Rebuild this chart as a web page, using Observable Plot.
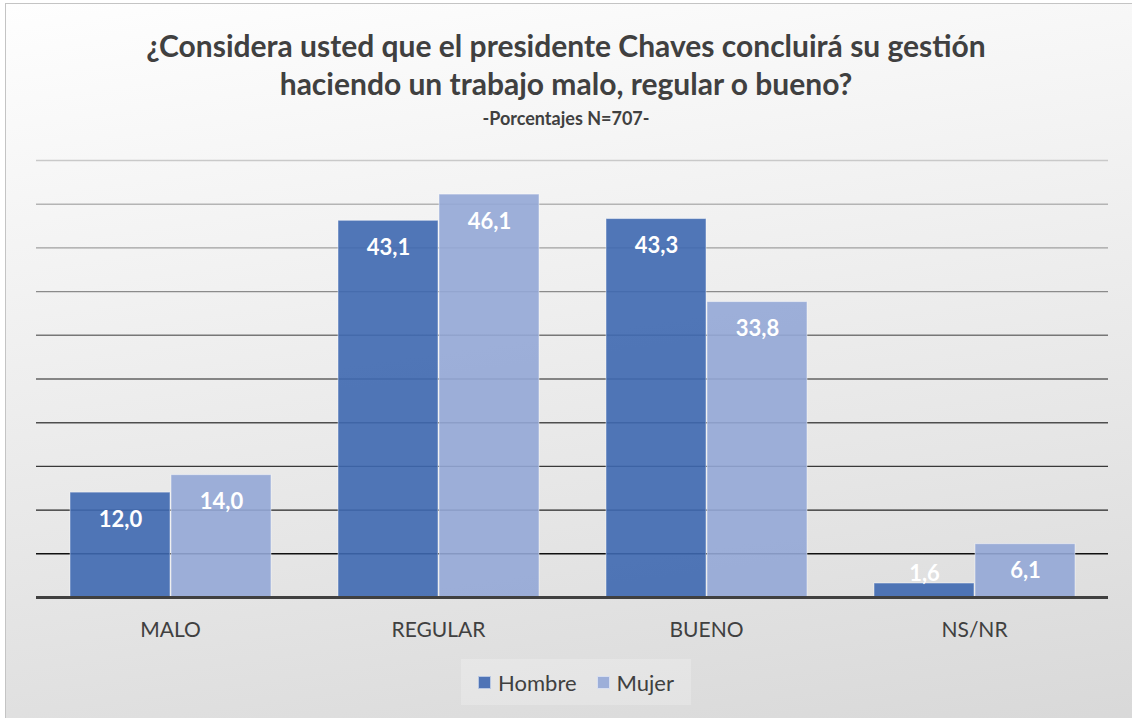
<!DOCTYPE html>
<html>
<head>
<meta charset="utf-8">
<script src="https://cdn.jsdelivr.net/npm/d3@7"></script>
<script src="https://cdn.jsdelivr.net/npm/@observablehq/plot@0.6"></script>
<style>
  html, body { margin: 0; padding: 0; width: 1132px; height: 718px; overflow: hidden; background: #fff; }
  #frame {
    position: absolute; left: 5px; top: 3px; width: 1140px; height: 730px;
    border: 1px solid #c4c4c4; box-sizing: border-box;
    background: linear-gradient(172deg, #fefefe 0%, #f3f3f3 30%, #e6e6e6 65%, #d8d8d8 100%);
    font-family: Lato, "Open Sans", sans-serif;
  }
  .title { position: absolute; left: -6px; width: 1132px; text-align: center; color: #404040; font-weight: 700; }
  #t1 { top: 22px; font-size: 30px; line-height: 38px; }
  #sub { top: 103px; font-size: 18px; line-height: 22px; }
  #chart { position: absolute; left: -9px; top: 134px; }
  #legend {
    position: absolute; left: 455px; top: 655px; width: 230px; height: 46px;
    background: rgba(255,255,255,0.22); display: flex; align-items: center; justify-content: center; gap: 20px;
    font-size: 22px; color: #404040;
  }
  .item { display: flex; align-items: center; gap: 7px; }
  .sw { width: 13px; height: 13px; display: inline-block; box-sizing: border-box; border: 1px solid rgba(255,255,255,0.6); }
</style>
</head>
<body>
<div id="frame">
  <div class="title" id="t1">¿Considera usted que el presidente Chaves concluirá su gestión<br>haciendo un trabajo malo, regular o bueno?</div>
  <div class="title" id="sub">-Porcentajes N=707-</div>
  <div id="chart"></div>
  <div id="legend"></div>
</div>
<script>
const categories = ["MALO", "REGULAR", "BUENO", "NS/NR"];
const series = ["Hombre", "Mujer"];
const hombre = [12.0, 43.1, 43.3, 1.6];
const mujer = [14.0, 46.1, 33.8, 6.1];
const yTicks = [5, 10, 15, 20, 25, 30, 35, 40, 45, 50];
const seriesColors = ["#3e68b0", "#93a7d6"];
const legendColors = ["#4f74b6", "#9dafd9"];

const data = [];
categories.forEach((c, i) => {
  data.push({category: c, series: "Hombre", value: hombre[i]});
  data.push({category: c, series: "Mujer", value: mujer[i]});
});
const fmt = v => v.toFixed(1).replace(".", ",");
const gridColor = d3.scaleLinear().domain([5, 50]).range(["#101010", "#c9c9c9"]).interpolate(d3.interpolateRgb);

const chart = Plot.plot({
  width: 1132,
  height: 520,
  marginLeft: 37,
  marginRight: 20,
  marginTop: 22,
  marginBottom: 61,
  style: {background: "transparent", fontFamily: "Lato, 'Open Sans', sans-serif"},
  fx: {domain: categories, padding: 0, label: null},
  x: {domain: series, paddingInner: 0.01, paddingOuter: 0.33, axis: null},
  y: {domain: [0, 50], axis: null},
  color: {domain: series, range: seriesColors},
  marks: [
    ...yTicks.map(t => Plot.ruleY([t], {stroke: gridColor(t), strokeWidth: 1.4})),
    Plot.barY(data, {fx: "category", x: "series", y: "value", fill: "series", fillOpacity: 0.9, stroke: "#ffffff", strokeOpacity: 0.45, strokeWidth: 1}),
    Plot.ruleY([0], {stroke: "#404040", strokeWidth: 3}),
    Plot.text(data, {fx: "category", x: "series", y: d => Math.max(d.value, 5.8), text: d => fmt(d.value), dy: 27, fill: "white", fontSize: 22, fontWeight: 700}),
    Plot.axisFx({anchor: "bottom", tickSize: 0, tickPadding: 25, fontSize: 21, color: "#404040", label: null})
  ]
});
document.getElementById("chart").appendChild(chart);

const legend = document.getElementById("legend");
series.forEach((s, i) => {
  const item = document.createElement("div");
  item.className = "item";
  item.innerHTML = `<span class="sw" style="background:${legendColors[i]}"></span><span>${s}</span>`;
  legend.appendChild(item);
});
</script>
</body>
</html>
